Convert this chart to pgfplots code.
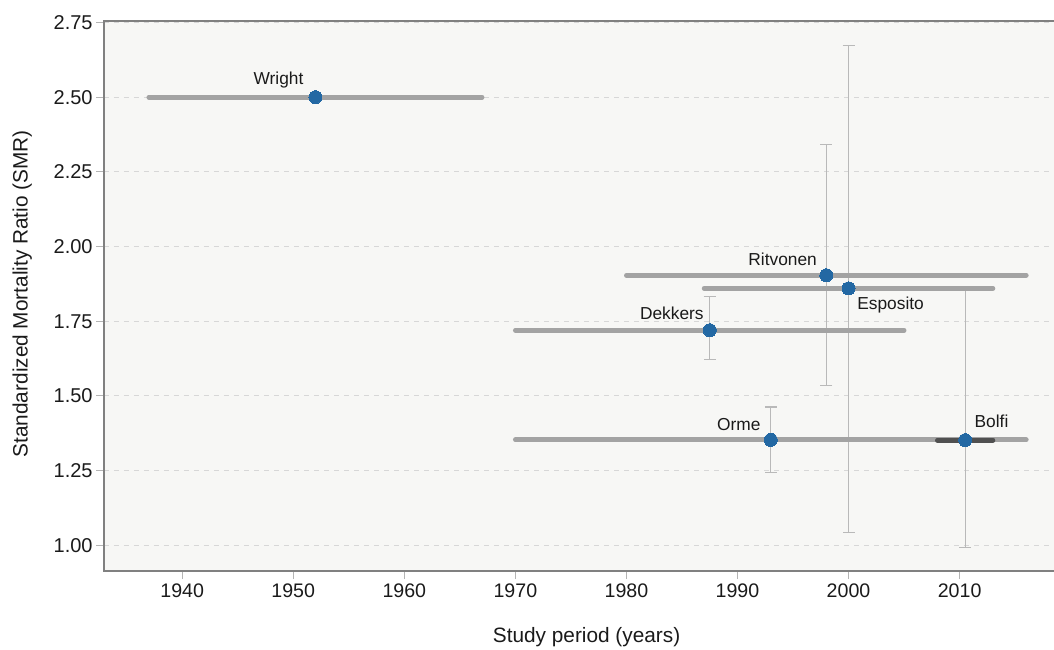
\documentclass[border=0pt]{standalone}
\usepackage{pgfplots}
\pgfplotsset{compat=1.18}
\usepackage{pgfplotstable}
\usepackage{fontspec}
\setmainfont{Liberation Sans}
\definecolor{bg}{RGB}{247,247,245}
\definecolor{axisgray}{RGB}{128,128,128}
\definecolor{gridgray}{RGB}{215,215,215}
\definecolor{rangegray}{RGB}{163,163,163}
\definecolor{darkrange}{RGB}{80,80,80}
\definecolor{errgray}{RGB}{185,185,185}
\definecolor{tickgray}{RGB}{180,180,180}
\definecolor{dotblue}{RGB}{35,104,163}
\definecolor{txt}{RGB}{26,26,26}

% study midpoints and SMR
\pgfplotstableread{
x y
1952 2.500
1998 1.904
2000 1.860
1987.5 1.720
1993 1.353
2010.5 1.352
}\pointdata

% error bars: upper and lower distance
\pgfplotstableread{
x y ep em
1998 1.904 0.437 0.370
2000 1.860 0.812 0.816
1987.5 1.720 0.114 0.097
1993 1.353 0.110 0.109
2010.5 1.352 0.500 0.358
}\errdata

\begin{document}
\begin{tikzpicture}
\begin{axis}[
  at={(0,0)}, anchor=south west,
  scale only axis,
  width=712.5pt, height=412.5pt,
  xmin=1932.96, xmax=2018.5,
  ymin=0.914, ymax=2.755,
  xtick={1940,1950,...,2010},
  ytick={1.00,1.25,1.50,1.75,2.00,2.25,2.50,2.75},
  xtick pos=bottom, ytick pos=left,
  tick align=outside,
  major tick length=6pt,
  tick style={tickgray, line width=0.75pt},
  axis line style={draw=none},
  axis background/.style={fill=bg},
  ymajorgrids,
  grid style={gridgray, line width=0.75pt, dash pattern=on 3.75pt off 3.75pt},
  /pgf/number format/assume math mode=true,
  xticklabel style={/pgf/number format/1000 sep={}, font=\fontsize{14.7}{17}\selectfont, text=txt},
  yticklabel style={/pgf/number format/.cd, fixed, fixed zerofill, precision=2, /tikz/.cd, font=\fontsize{15}{17}\selectfont, text=txt, xshift=1pt},
  xlabel={Study period (years)},
  ylabel={Standardized Mortality Ratio (SMR)},
  xlabel style={at={(axis description cs:0.508,-0.12)}, anchor=center, font=\fontsize{15.6}{18}\selectfont, text=txt},
  ylabel style={at={(axis description cs:-0.086,0.504)}, anchor=center, font=\fontsize{15.6}{18}\selectfont, text=txt},
  clip=false,
]
% error bars
\addplot[only marks, mark=none,
  error bars/.cd, y dir=both, y explicit,
  error mark=-,
  error bar style={errgray, line width=0.8pt},
  error mark options={errgray, line width=0.8pt, mark size=4.5pt, rotate=90}]
  table[x=x, y=y, y error plus=ep, y error minus=em] {\errdata};

% study period ranges
\addplot[rangegray, line width=3.6pt, line cap=round] coordinates {(1937,2.500) (1967,2.500)};
\addplot[rangegray, line width=3.6pt, line cap=round] coordinates {(1980,1.904) (2016,1.904)};
\addplot[rangegray, line width=3.6pt, line cap=round] coordinates {(1987,1.860) (2013,1.860)};
\addplot[rangegray, line width=3.6pt, line cap=round] coordinates {(1970,1.720) (2005,1.720)};
\addplot[rangegray, line width=3.6pt, line cap=round] coordinates {(1970,1.353) (2016,1.353)};
\addplot[darkrange, line width=3.6pt, line cap=round] coordinates {(2008,1.352) (2013,1.352)};

% points
\addplot[only marks, mark=*, mark size=4.9pt, mark options={fill=dotblue, draw=dotblue, line width=0pt}]
  table[x=x, y=y] {\pointdata};

% labels
\begin{scope}[every node/.style={anchor=base west, inner sep=0pt, text=txt, font=\fontsize{13}{15}\selectfont}]
\node at (axis cs:1946.41,2.544) {Wright};
\node at (axis cs:1990.96,1.936) {Ritvonen};
\node at (axis cs:2000.77,1.788) {Esposito};
\node at (axis cs:1981.2,1.757) {Dekkers};
\node at (axis cs:1988.14,1.383) {Orme};
\node at (axis cs:2011.33,1.394) {Bolfi};
\end{scope}

% axis lines: left, bottom, top
\draw[axisgray, line width=1.3pt] (rel axis cs:1,1) -- (rel axis cs:0,1) -- (rel axis cs:0,0) -- (rel axis cs:1,0);
\end{axis}
\pgfresetboundingbox
\path (-78pt,-59.25pt) rectangle (712.5pt,428.25pt);
\end{tikzpicture}
\end{document}
